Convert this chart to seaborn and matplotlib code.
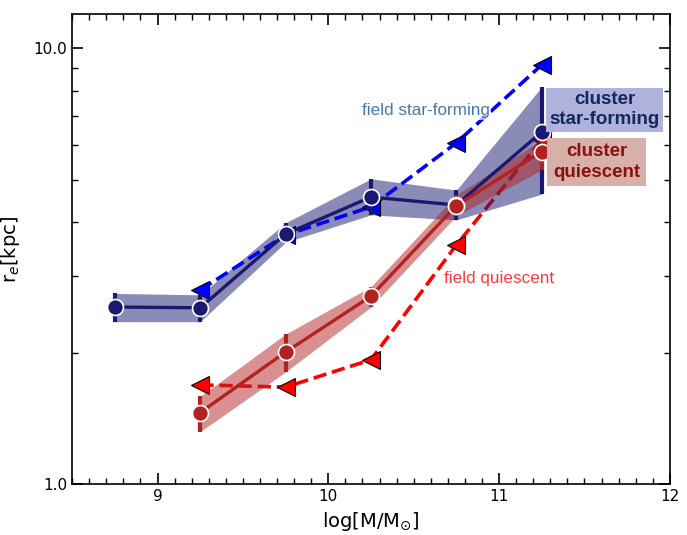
import numpy as np
import pandas as pd
import matplotlib
matplotlib.use("Agg")
import matplotlib.pyplot as plt
import seaborn as sns
from matplotlib.ticker import MultipleLocator, FormatStrFormatter, NullFormatter

# cluster star-forming: median size and band limits
sf_mass = [8.75, 9.25, 9.75, 10.25, 10.75, 11.25]
sf_re = [2.55, 2.54, 3.75, 4.56, 4.37, 6.43]
sf_lo = [2.36, 2.36, 3.59, 4.15, 4.04, 4.63]
sf_hi = [2.74, 2.72, 3.98, 5.02, 4.73, 8.16]

# cluster quiescent
q_mass = [9.25, 9.75, 10.25, 10.75, 11.25]
q_re = [1.46, 2.01, 2.70, 4.36, 5.80]
q_lo = [1.32, 1.81, 2.55, 4.13, 5.26]
q_hi = [1.59, 2.21, 2.84, 4.61, 6.17]

# field relations
fsf_mass = [9.25, 9.75, 10.25, 10.75, 11.25]
fsf_re = [2.79, 3.73, 4.33, 6.07, 9.17]
fq_mass = [9.25, 9.75, 10.25, 10.75, 11.25]
fq_re = [1.69, 1.67, 1.93, 3.54, 6.17]

navy = "midnightblue"
red = "firebrick"

sns.set_style("ticks")
plt.rcParams["font.family"] = ["DejaVu Sans"]

fig, ax = plt.subplots(figsize=(6.87, 5.35), dpi=100)
fig.subplots_adjust(left=0.105, right=0.975, bottom=0.095, top=0.974)

# field quiescent sits under the bands
sns.lineplot(x=fq_mass, y=fq_re, ax=ax, color="red", linestyle="--", lw=2.6,
             marker="<", markersize=13, markeredgecolor="k", markeredgewidth=0.8, zorder=1)

# shaded bands + vertical error bars
ax.fill_between(sf_mass, sf_lo, sf_hi, color=navy, alpha=0.5, lw=0, zorder=2)
ax.fill_between(q_mass, q_lo, q_hi, color=red, alpha=0.5, lw=0, zorder=2)

sns.lineplot(x=fsf_mass, y=fsf_re, ax=ax, color="blue", linestyle="--", lw=2.6,
             marker="<", markersize=13, markeredgecolor="k", markeredgewidth=0.8, zorder=3)

ax.vlines(sf_mass, sf_lo, sf_hi, color=navy, lw=3, zorder=4)
ax.vlines(q_mass, q_lo, q_hi, color=red, lw=3, zorder=4)

sns.lineplot(x=sf_mass, y=sf_re, ax=ax, color=navy, lw=2.4, marker="o",
             markersize=11.5, markeredgecolor="white", markeredgewidth=1.2, zorder=5)
sns.lineplot(x=q_mass, y=q_re, ax=ax, color=red, lw=2.4, marker="o",
             markersize=11.5, markeredgecolor="white", markeredgewidth=1.2, zorder=6)

ax.set_yscale("log")
ax.set_xlim(8.5, 12)
ax.set_ylim(1.0, 12.0)
ax.yaxis.set_major_formatter(FormatStrFormatter("%.1f"))
ax.yaxis.set_minor_formatter(NullFormatter())
ax.xaxis.set_major_locator(MultipleLocator(1))
ax.xaxis.set_minor_locator(MultipleLocator(0.1))
ax.tick_params(which="both", direction="in", top=True, right=True, labelsize=11,
               color="k", labelcolor="k")
ax.tick_params(which="major", length=8, width=1.2)
ax.tick_params(which="minor", length=4, width=1)
for s in ax.spines.values():
    s.set_linewidth(1.2)
    s.set_color("k")

ax.set_xlabel(r"log[M/M$_{\odot}$]", fontsize=14, labelpad=4, color="k")
ax.set_ylabel(r"r$_e$[kpc]", fontsize=14, labelpad=8, color="k")

lab = dict(family=["Liberation Sans", "DejaVu Sans"], ha="center", va="center")
ax.text(10.57, 7.19, "field star-forming", color="#4a78a8", fontsize=12.3, zorder=7,
        bbox=dict(fc="white", ec="none", alpha=0.65, pad=1), **lab)
ax.text(11.0, 2.97, "field quiescent", color="#ff3a3a", fontsize=12.3, zorder=7,
        bbox=dict(fc="white", ec="none", alpha=0.65, pad=1), **lab)
ax.text(11.62, 7.24, "cluster\nstar-forming", color="#14285a", fontsize=13.5,
        fontweight="bold", linespacing=1.25, zorder=8,
        bbox=dict(fc="#aeb2dc", ec="none", boxstyle="square,pad=0.18"), **lab)
ax.text(11.57, 5.49, "cluster\nquiescent", color="#8b1010", fontsize=13.5,
        fontweight="bold", linespacing=1.25, zorder=8,
        bbox=dict(fc="#d8b0aa", ec="none", boxstyle="square,pad=0.3"), **lab)

fig.savefig("out.png", dpi=100)
